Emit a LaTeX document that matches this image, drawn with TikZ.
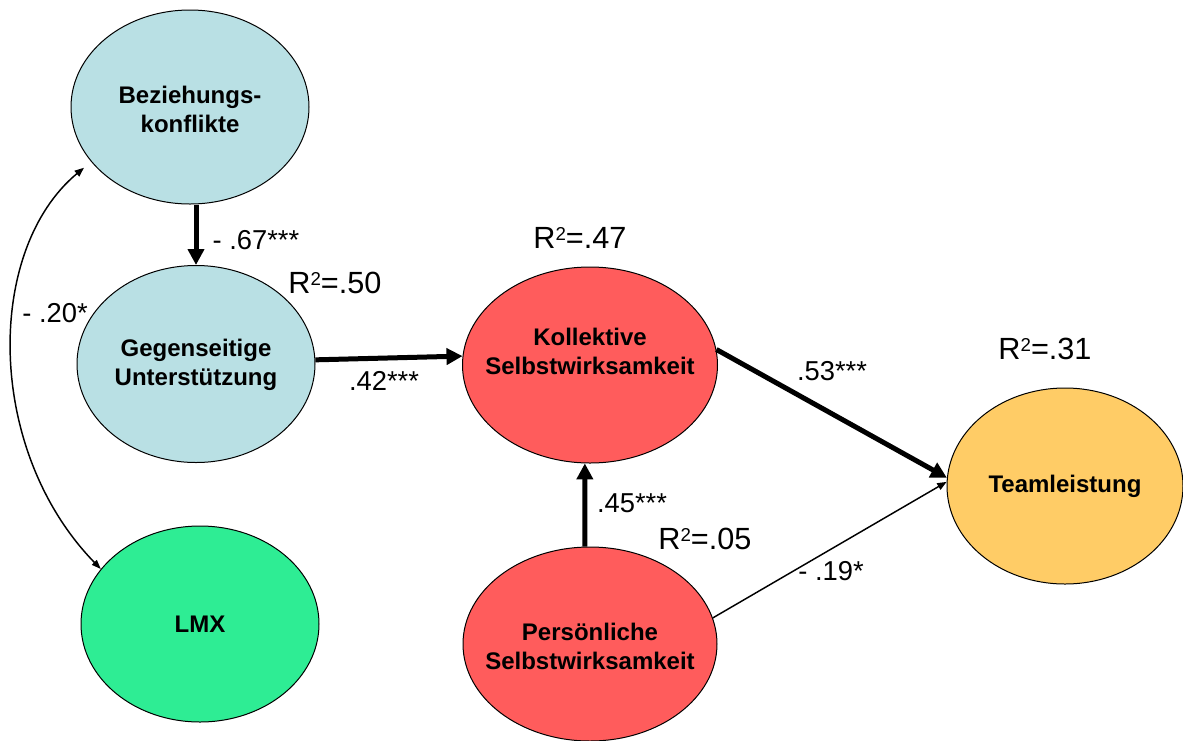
\documentclass[tikz,border=0pt]{standalone}
\usepackage{fontspec}
\setmainfont{Liberation Sans}
\usetikzlibrary{shapes.geometric,arrows.meta}

\definecolor{paleblue}{RGB}{185,224,228}
\definecolor{mint}{RGB}{46,237,148}
\definecolor{coral}{RGB}{255,92,92}
\definecolor{amber}{RGB}{255,204,102}

% raised, reduced "2" for R squared
\newcommand{\rsqsup}{\raisebox{6.3pt}{\fontsize{14}{14}\selectfont 2}}

\tikzset{
  construct/.style={ellipse, draw=black, line width=0.75pt, inner sep=0pt},
  nametext/.style={font=\fontsize{18}{21.75}\selectfont\bfseries, align=center, inner sep=0pt},
  coef/.style={font=\fontsize{20.5}{24}\selectfont, inner sep=0pt},
  rsq/.style={font=\fontsize{23}{27}\selectfont, inner sep=0pt},
  strongpath/.style={line width=3.75pt, -{Triangle[length=12pt,width=12pt]}},
  weakpath/.style={line width=1.1pt, -{Triangle[length=7pt,width=5.5pt]}},
}

\begin{document}
\begin{tikzpicture}[x=0.75pt, y=-0.75pt]
  \useasboundingbox (0,0) rectangle (1183,740);

  % latent constructs
  \node[construct, fill=paleblue, minimum width=178.5pt, minimum height=145.5pt,
        label={[nametext, yshift=-2pt]center:Beziehungs-\\konflikte}] (bez) at (190,107) {};
  \node[construct, fill=paleblue, minimum width=178.5pt, minimum height=147.75pt,
        label={[nametext, yshift=-1pt]center:Gegenseitige\\Unterstützung}] (geg) at (196,364) {};
  \node[construct, fill=mint, minimum width=178.5pt, minimum height=147pt,
        label={[nametext]center:LMX}] (lmx) at (200,624) {};
  \node[construct, fill=coral, minimum width=191.25pt, minimum height=147pt,
        label={[nametext, yshift=10.5pt]center:Kollektive\\Selbstwirksamkeit}] (kol) at (590,365) {};
  \node[construct, fill=coral, minimum width=190.5pt, minimum height=145.5pt,
        label={[nametext, yshift=-2pt]center:Persönliche\\Selbstwirksamkeit}] (per) at (590,644) {};
  \node[construct, fill=amber, minimum width=177pt, minimum height=147pt,
        label={[nametext]center:Teamleistung}] (team) at (1065,486) {};

  % paths
  \draw[strongpath] (bez.south -| geg.north) -- (geg.north);
  \draw[strongpath] (geg.2.5) -- (kol.176);
  \draw[strongpath] (per.93) -- (kol.267);
  \draw[strongpath] (kol.7) -- (team.176);
  \draw[weakpath] (per.12) -- (team.178);
  \draw[line width=1.1pt, {Triangle[length=7pt,width=5.5pt]}-{Triangle[length=7pt,width=5pt]}, shorten <=7pt]
    (bez.209) .. controls (-15,250) and (-15,450) .. (lmx.151);

  % coefficients
  \node[coef] (c67) at (256,240) {- .67***};
  \node[coef] (c20) at (55,313) {- .20*};
  \node[coef] (c42) at (384,381) {.42***};
  \node[coef] (c53) at (832,371) {.53***};
  \node[coef] (c45) at (632,503) {.45***};
  \node[coef] (c19) at (831,571) {- .19*};

  % explained variance
  \node[rsq] (r50) at (335,283) {R\rsqsup=.50};
  \node[rsq] (r47) at (580,238) {R\rsqsup=.47};
  \node[rsq] (r31) at (1045,349) {R\rsqsup=.31};
  \node[rsq] (r05) at (705,539) {R\rsqsup=.05};
\end{tikzpicture}
\end{document}
